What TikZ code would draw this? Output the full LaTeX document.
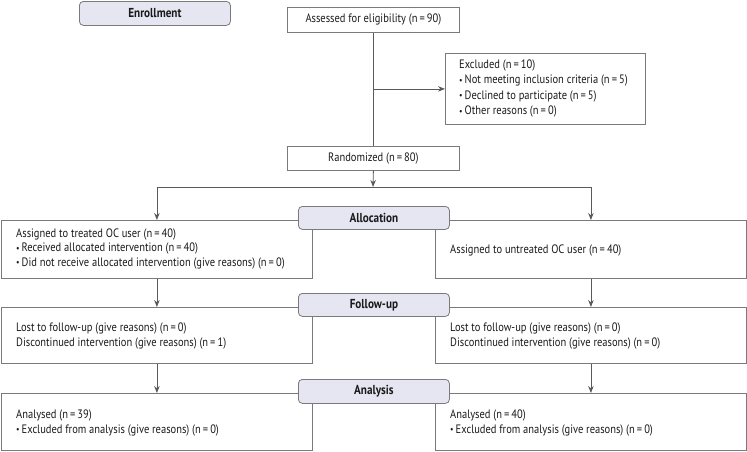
\documentclass[tikz,border=0pt]{standalone}
\usepackage{fontspec}
\setmainfont[FakeStretch=0.86]{PT Sans}
\usetikzlibrary{arrows.meta}
\definecolor{ln}{HTML}{5A5A5A}
\definecolor{bx}{HTML}{7A7A7A}
\definecolor{lab}{HTML}{E6E6F3}
\definecolor{tx}{HTML}{1A1A1A}
\newcommand{\bul}{{\small\raisebox{0.5pt}{•}}\,}
\begin{document}
\begin{tikzpicture}[x=1pt,y=-1pt,
  font=\fontsize{12.2}{15}\selectfont, text=tx,
  box/.style={draw=bx, line width=0.8pt, anchor=north west, inner sep=0pt},
  lbl/.style={draw=bx, fill=lab, rounded corners=4pt, line width=0.8pt, anchor=north west, inner sep=0pt, font=\fontsize{13}{14}\selectfont\bfseries},
  tl/.style={anchor=west, align=left, inner sep=0pt},
  conn/.style={draw=ln, line width=0.8pt},
  arr/.style={draw=ln, line width=0.8pt, -{Stealth[length=7pt,width=5.5pt]}}]
\useasboundingbox (0,0) rectangle (747,451);
% enrollment
\node[lbl, minimum width=151pt, minimum height=24pt] (enroll) at (79,1) {Enrollment};
\node[box, minimum width=172pt, minimum height=25pt] (assess) at (287,7) {Assessed for eligibility (n\,=\,90)};
\node[box, minimum width=200pt, minimum height=71pt] (excl) at (445,53) {};
\node[tl, font=\fontsize{12.2}{15.5}\selectfont] (exclt) at (459,88.5) {Excluded (n\,=\,10)\\\bul Not meeting inclusion criteria (n\,=\,5)\\\bul Declined to participate (n\,=\,5)\\\bul Other reasons (n\,=\,0)};
\node[box, minimum width=172pt, minimum height=24pt] (rand) at (287,146) {Randomized (n\,=\,80)};
% allocation
\node[box, minimum width=311pt, minimum height=58pt] (allocL) at (1,220) {};
\node[tl, font=\fontsize{12.2}{14.5}\selectfont] (allocLt) at (16,248.5) {Assigned to treated OC user (n\,=\,40)\\\bul Received allocated intervention (n\,=\,40)\\\bul Did not receive allocated intervention (give reasons) (n\,=\,0)};
\node[box, minimum width=311pt, minimum height=58pt] (allocR) at (435,220) {};
\node[tl] (allocRt) at (450,250) {Assigned to untreated OC user (n\,=\,40)};
% follow-up
\node[box, minimum width=311pt, minimum height=56pt] (followL) at (1,307) {};
\node[tl] (followLt) at (16,335.5) {Lost to follow-up (give reasons) (n\,=\,0)\\Discontinued intervention (give reasons) (n\,=\,1)};
\node[box, minimum width=311pt, minimum height=56pt] (followR) at (435,307) {};
\node[tl] (followRt) at (450,335.5) {Lost to follow-up (give reasons) (n\,=\,0)\\Discontinued intervention (give reasons) (n\,=\,0)};
% analysis
\node[box, minimum width=311pt, minimum height=57pt] (anaL) at (1,393) {};
\node[tl] (anaLt) at (16,422.5) {Analysed (n\,=\,39)\\\bul Excluded from analysis (give reasons) (n\,=\,0)};
\node[box, minimum width=311pt, minimum height=57pt] (anaR) at (435,393) {};
\node[tl] (anaRt) at (450,422.5) {Analysed (n\,=\,40)\\\bul Excluded from analysis (give reasons) (n\,=\,0)};
% stage labels
\node[lbl, minimum width=151pt, minimum height=23pt] (allocLab) at (298,206) {Allocation};
\node[lbl, minimum width=151pt, minimum height=23pt] (followLab) at (298,293) {Follow-up};
\node[lbl, minimum width=151pt, minimum height=24pt] (anaLab) at (298,379) {Analysis};
% connectors
\coordinate (br) at (assess.south |- excl.west);
\coordinate (split) at (373,187);
\coordinate (sl) at (allocL.north |- split);
\coordinate (sr) at (allocR.north |- split);
\draw[conn] (assess.south) -- (rand.north);
\draw[arr] (br) -- (excl.west);
\draw[arr] (rand.south) -- (split);
\draw[conn] (sl) -- (sr);
\draw[arr] (sl) -- (allocL.north);
\draw[arr] (sr) -- (allocR.north);
\draw[arr] (allocL.south) -- (followL.north);
\draw[arr] (allocR.south) -- (followR.north);
\draw[arr] (followL.south) -- (anaL.north);
\draw[arr] (followR.south) -- (anaR.north);
\end{tikzpicture}
\end{document}
